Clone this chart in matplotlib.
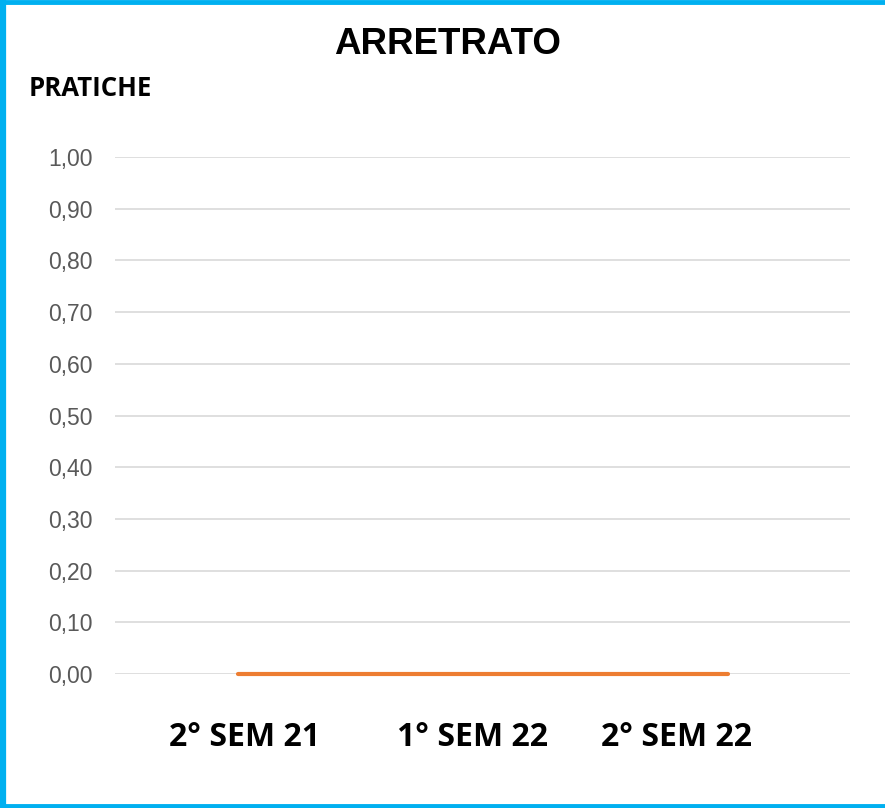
import matplotlib
matplotlib.use("Agg")
import matplotlib.pyplot as plt
from matplotlib.lines import Line2D
import matplotlib.transforms as mtrans

categories = ["2° SEM 21", "1° SEM 22", "2° SEM 22"]
values = [0.0, 0.0, 0.0]
yticks = [0.0, 0.1, 0.2, 0.3, 0.4, 0.5, 0.6, 0.7, 0.8, 0.9, 1.0]
ytick_labels = ["0,00", "0,10", "0,20", "0,30", "0,40", "0,50", "0,60", "0,70", "0,80", "0,90", "1,00"]

W, H = 885, 808
fig = plt.figure(figsize=(W / 100, H / 100), dpi=100)
fig.patch.set_facecolor("white")

# plot area: x 115..850, y 157..674 (pixels)
ax = fig.add_axes([115 / W, 1 - 674 / H, (850 - 115) / W, (674 - 157) / H])
x = list(range(len(categories)))
ax.plot(x, values, color="#ED7D31", lw=3.0, solid_capstyle="round", zorder=3, clip_on=False)
ax.set_xlim(-0.5, len(categories) - 0.5)
ax.set_ylim(0, 1.0)
ax.set_yticks(yticks)
ax.set_yticklabels(ytick_labels, fontfamily="Liberation Sans", fontsize=16.5, color="#595959")
ax.set_xticks(x)
ax.set_xticklabels(categories, fontfamily="Open Sans", fontweight="bold", fontsize=23, color="black")
ax.tick_params(axis="y", length=0, pad=16)
ax.tick_params(axis="x", length=0, pad=34)
ax.grid(axis="y", color="#D9D9D9", lw=1.2)
ax.set_axisbelow(True)
for s in ax.spines.values():
    s.set_visible(False)

# horizontal nudges of the category labels (pixels), as in the reference layout
shifts = [7, -10, -51]
for lab, dx in zip(ax.get_xticklabels(), shifts):
    lab.set_transform(lab.get_transform() + mtrans.ScaledTranslation(dx / 100, 0, fig.dpi_scale_trans))

fig.text(448 / W, 1 - 44 / H, "ARRETRATO", ha="center", va="center",
         fontfamily="Liberation Sans", fontweight="bold", fontsize=26.5, color="black")
fig.text(29 / W, 1 - 89 / H, "PRATICHE", ha="left", va="center",
         fontfamily="Open Sans", fontweight="bold", fontsize=18.5, color="black")

# blue frame (top, left, bottom)
blue = "#00B0F0"
fig.add_artist(Line2D([0, 1], [1 - 2 / H, 1 - 2 / H], transform=fig.transFigure, color=blue, lw=3.5))
fig.add_artist(Line2D([3 / W, 3 / W], [0, 1], transform=fig.transFigure, color=blue, lw=4.5))
fig.add_artist(Line2D([0, 1], [2 / H, 2 / H], transform=fig.transFigure, color=blue, lw=3.5))

fig.savefig("out.png", dpi=100)
